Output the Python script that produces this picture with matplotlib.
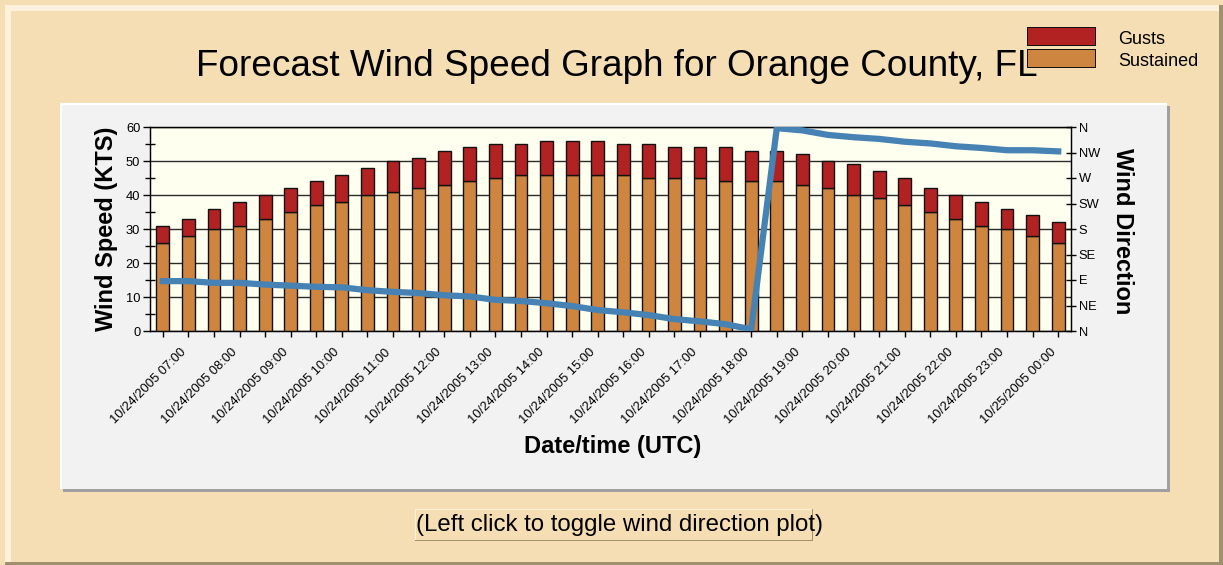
import matplotlib
matplotlib.use("Agg")
import matplotlib.pyplot as plt
import numpy as np
from matplotlib.patches import Rectangle
from matplotlib.ticker import MultipleLocator

plt.rcParams['font.family'] = ['Liberation Sans', 'DejaVu Sans']

# 30-minute steps, 10/24/2005 06:30 .. 10/25/2005 00:00
sustained = [26, 28, 30, 31, 33, 35, 37, 38, 40, 41, 42, 43,
             44, 45, 46, 46, 46, 46, 46, 45, 45, 45, 44, 44,
             44, 43, 42, 40, 39, 37, 35, 33, 31, 30, 28, 26]
gusts = [31, 33, 36, 38, 40, 42, 44, 46, 48, 50, 51, 53,
         54, 55, 55, 56, 56, 56, 55, 55, 54, 54, 54, 53,
         53, 52, 50, 49, 47, 45, 42, 40, 38, 36, 34, 32]
direction = [88, 88, 85, 85, 82, 80, 78, 77, 72, 69, 67, 63,
             61, 55, 53, 49, 44, 37, 33, 28, 21, 17, 12, 3,
             358, 354, 346, 342, 339, 334, 331, 326, 323, 319, 319, 317]
hour_labels = ['10/24/2005 07:00', '10/24/2005 08:00', '10/24/2005 09:00',
               '10/24/2005 10:00', '10/24/2005 11:00', '10/24/2005 12:00',
               '10/24/2005 13:00', '10/24/2005 14:00', '10/24/2005 15:00',
               '10/24/2005 16:00', '10/24/2005 17:00', '10/24/2005 18:00',
               '10/24/2005 19:00', '10/24/2005 20:00', '10/24/2005 21:00',
               '10/24/2005 22:00', '10/24/2005 23:00', '10/25/2005 00:00']
compass = ['N', 'NE', 'E', 'SE', 'S', 'SW', 'W', 'NW', 'N']

W, H = 1223, 565
fig = plt.figure(figsize=(W / 100, H / 100), dpi=100)
fig.patch.set_facecolor('#f5deb3')


def box(x0, y0, x1, y1, color, z=0):
    # pixel coords (top-left origin) -> figure fraction
    fig.add_artist(Rectangle((x0 / W, 1 - y1 / H), (x1 - x0) / W, (y1 - y0) / H,
                             transform=fig.transFigure, facecolor=color,
                             edgecolor='none', zorder=z))


# outer frame bevel
box(5, 5, 1219, 11, '#fdf1dc')
box(5, 5, 11, 563, '#fdf1dc')
box(1219, 5, 1223, 565, '#a0906e')
box(5, 562, 1223, 565, '#a0906e')
# inner panel with shadow
box(63, 106, 1170, 492, '#a0a0a0')
box(60, 103, 1167, 489, '#ffffff')
box(62, 105, 1167, 489, '#f2f2f2')
# button box
box(415, 509, 813, 541, '#a08f70')
box(415, 509, 812, 540, '#fbf0dc')
box(416, 510, 812, 540, '#f5deb3')

ax = fig.add_axes([150 / W, 1 - 331 / H, 921 / W, 204 / H])
ax.set_facecolor('#fffff0')
x = np.arange(len(sustained))
extra = np.array(gusts) - np.array(sustained)

ax.bar(x, sustained, width=0.5, color='#cd853f', edgecolor='#111111', linewidth=1, zorder=3)
ax.bar(x, extra, bottom=sustained, width=0.5, color='#b22222', edgecolor='#111111',
       linewidth=1, zorder=3)

ax.set_xlim(-0.5, len(x) - 0.5)
ax.set_ylim(0, 60)
ax.yaxis.set_major_locator(MultipleLocator(10))
ax.yaxis.set_minor_locator(MultipleLocator(5))
ax.grid(axis='y', which='major', color='#2a2a2a', linewidth=1, zorder=1)
ax.set_axisbelow(True)
ax.set_xticks(x, minor=True)
ax.set_xticks(x[1::2])
ax.set_xticklabels(hour_labels, rotation=45, ha='right', va='top', fontsize=9.3)
ax.tick_params(axis='x', which='both', length=4, width=1, pad=7)
ax.tick_params(axis='y', which='major', length=5, width=1, labelsize=9.3, pad=2)
ax.tick_params(axis='y', which='minor', direction='inout', length=7, width=1)
for s in ax.spines.values():
    s.set_color('#111111')
    s.set_linewidth(1)

ax2 = ax.twinx()
ax2.plot(x, direction, color='#4682b4', linewidth=4.5, solid_joinstyle='miter', zorder=5)
ax2.set_ylim(0, 360)
ax2.set_yticks(np.arange(0, 361, 45))
ax2.set_yticklabels(compass)
ax2.tick_params(axis='y', direction='inout', length=7, width=1, labelsize=9.3, pad=2)
ax2.set_xlim(-0.5, len(x) - 0.5)

fig.text(106 / W, 1 - 229 / H, 'Wind Speed (KTS)', rotation=90, ha='center', va='center',
         fontsize=17, fontweight='bold')
fig.text(1123 / W, 1 - 231 / H, 'Wind Direction', rotation=-90, ha='center', va='center',
         fontsize=17, fontweight='bold')
fig.text(613 / W, 1 - 446 / H, 'Date/time (UTC)', ha='center', va='center',
         fontsize=17, fontweight='bold')
fig.text(617 / W, 1 - 66 / H, 'Forecast Wind Speed Graph for Orange County, FL',
         ha='center', va='center', fontsize=26.6)
fig.text(620 / W, 1 - 525 / H, '(Left click to toggle wind direction plot)',
         ha='center', va='center', fontsize=17.3)

# legend
box(1027, 27, 1096, 46, '#111111', 2)
box(1028, 28, 1095, 45, '#b22222', 3)
box(1027, 49, 1096, 68, '#111111', 2)
box(1028, 50, 1095, 67, '#cd853f', 3)
fig.text(1118 / W, 1 - 39 / H, 'Gusts', ha='left', va='center', fontsize=13)
fig.text(1118 / W, 1 - 61 / H, 'Sustained', ha='left', va='center', fontsize=13)

fig.savefig('out.png', dpi=100, facecolor=fig.get_facecolor())
